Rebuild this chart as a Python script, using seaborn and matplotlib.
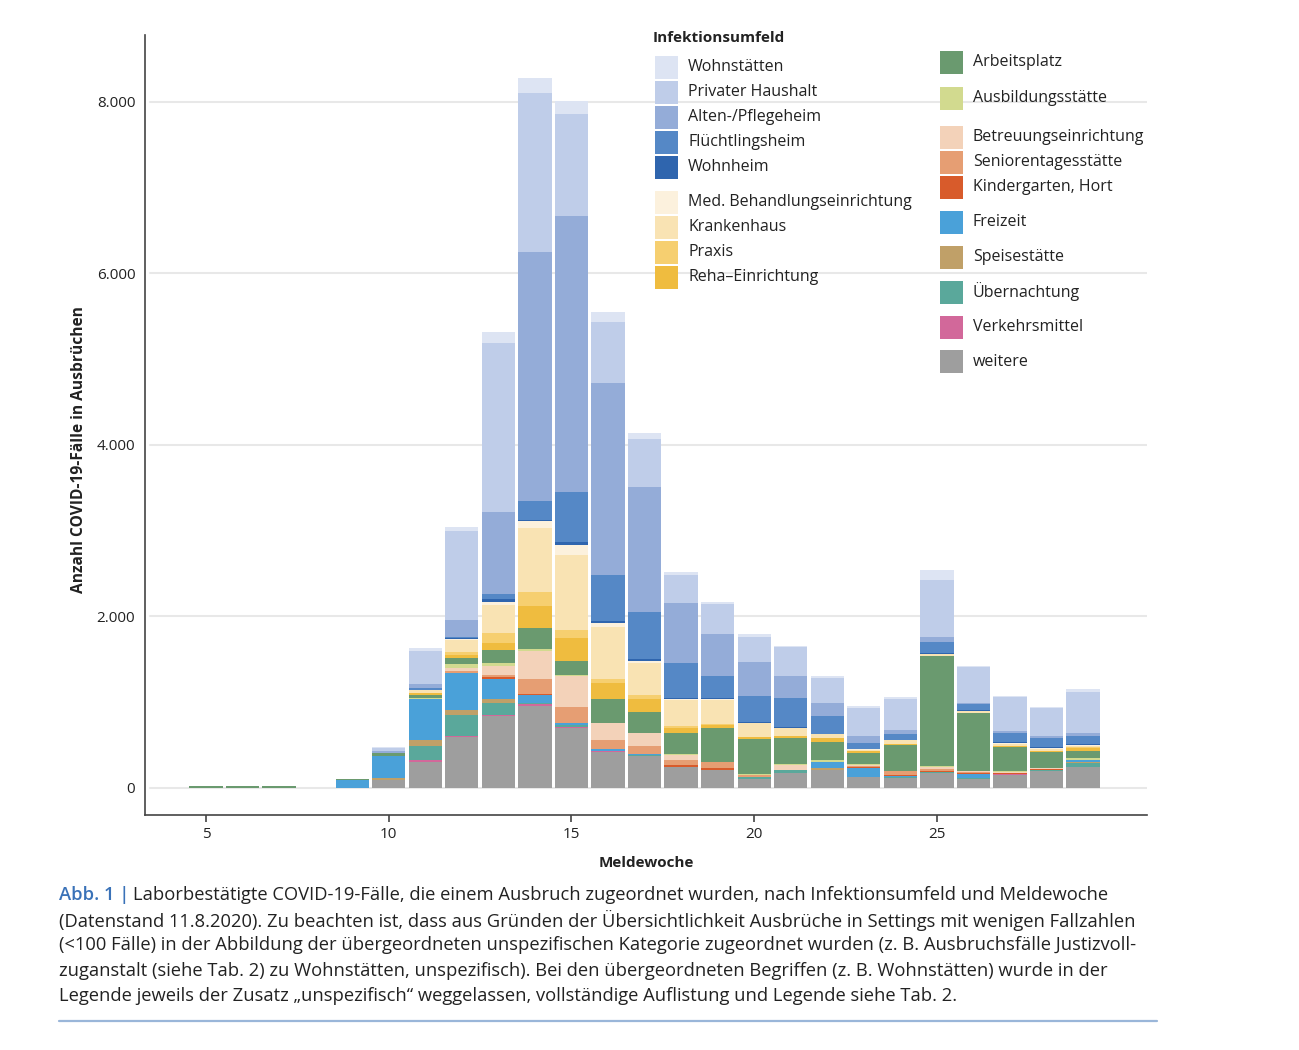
import numpy as np
import pandas as pd
import matplotlib
matplotlib.use("Agg")
import matplotlib.pyplot as plt
from matplotlib.patches import Rectangle
from matplotlib.lines import Line2D
from matplotlib.ticker import FuncFormatter
import seaborn as sns

# ---------------- data ----------------
weeks = list(range(5, 30))

categories = [
    "Wohnstätten", "Privater Haushalt", "Alten-/Pflegeheim", "Flüchtlingsheim", "Wohnheim",
    "Med. Behandlungseinrichtung", "Krankenhaus", "Praxis", "Reha\u2013Einrichtung",
    "Arbeitsplatz", "Ausbildungsstätte", "Betreuungseinrichtung", "Seniorentagesstätte",
    "Kindergarten, Hort", "Freizeit", "Speisestätte", "Übernachtung", "Verkehrsmittel", "weitere",
]

colors = [
    "#dde4f3", "#bfcde9", "#94acd8", "#5588c6", "#2f65ae",
    "#fcf1dd", "#f9e3b3", "#f6cf70", "#efbc3f",
    "#6a9a6f", "#d2da8f", "#f3d2b9", "#e69e73",
    "#d85b2b", "#4aa1d9", "#c0a068", "#5aa89b", "#d2689a", "#9e9e9e",
]

#                 5  6  7  8  9   10   11    12    13    14    15    16    17   18   19   20   21   22   23   24    25   26   27   28   29
wohnstaetten   = [0, 0, 0, 0, 0,  15,  27,   55,  130,  175,  160,  117,   70,  39,  27,  30,  20,  30,  20,  20,  117,  15,  20,  20,  40]
privat         = [0, 0, 0, 0, 0,  35, 393, 1030, 1960, 1854, 1186,  711,  552, 330, 342, 291, 338, 285, 335, 357,  668, 421, 390, 325, 480]
alten          = [0, 0, 0, 0, 0,  25,  46,  205,  965, 2915, 3223, 2236, 1465, 700, 500, 395, 257, 155,  78,  50,   59,  10,  31,  23,  31]
fluechtling    = [0, 0, 0, 0, 0,   0,  15,   10,   50,  214,  583,  533,  545, 400, 253, 312, 338, 210,  70,  70,  128,  75,  97, 105,  97]
wohnheim       = [0, 0, 0, 0, 0,   0,   0,   15,   38,   15,   30,   23,   20,  15,  10,  12,  12,   0,   0,   0,    7,  10,  20,  12,  10]
med            = [0, 0, 0, 0, 0,   0,   0,   12,   38,   80,  117,   47,   20,  10,  10,   0,   0,   0,   7,   5,    5,   5,  10,   7,  10]
krankenhaus    = [0, 0, 0, 0, 0,   0,  40,  137,  320,  746,  874,  610,  381, 300, 285, 155,  86,  51,  20,  39,   15,  15,  20,  20,  10]
praxis         = [0, 0, 0, 0, 0,   0,   0,   31,  128,  160,   97,   50,   50,  30,  10,   0,   0,   0,   0,   0,    0,   0,   0,   0,  20]
reha           = [0, 0, 0, 0, 0,   0,  20,   40,   78,  255,  265,  183,  151,  60,  30,  31,  20,  39,  20,  15,    0,   0,  10,  12,  30]
arbeitsplatz   = [25, 25, 25, 0, 15, 31, 40,   66,  145,  255,  163,  276,  245, 240, 398, 408, 306, 213, 128, 300, 1290, 680, 280, 194,  86]
ausbildung     = [0, 0, 0, 0, 0,   0,  12,   50,   40,   15,   10,    0,    0,  10,   0,  10,  10,  20,  10,   0,   10,   0,  10,   0,  20]
betreuung      = [0, 0, 0, 0, 0,   0,   0,   32,  110,  330,  360,  200,  148,  60,   0,   0,  58,   0,  10,   0,   20,  12,  10,  10,   0]
senioren       = [0, 0, 0, 0, 0,   0,   0,   27,   15,  180,  193,  101,   86,  65,  70,  27,   0,   0,  15,  45,   20,  15,   0,   0,   0]
kindergarten   = [0, 0, 0, 0, 0,   0,   0,    0,   30,   10,    0,   10,    0,  15,  20,   0,   0,   0,  10,  10,   10,  10,  12,  10,   0]
freizeit       = [0, 0, 0, 0, 90, 254, 478,  427,  233,   86,   20,   15,   15,   0,   0,   0,   0,  78, 110,  20,   10,  40,   0,   0,  27]
speise         = [0, 0, 0, 0, 0,  27,  66,   59,   47,    0,    0,    0,    0,   0,   0,   0,   0,  20,   0,   0,    0,   0,   0,   0,  10]
uebernachtung  = [0, 0, 0, 0, 0,   0, 167,  243,  132,   20,   30,    0,   10,   0,   0,  15,  39,   0,   0,  10,   10,  10,   0,  10,  39]
verkehr        = [0, 0, 0, 0, 0,   0,  20,   10,   15,   15,   10,   10,    0,   0,   0,   0,   0,   0,   0,   0,    0,   0,  15,   0,   0]
weitere        = [0, 0, 0, 0, 0,  95, 305,  598,  840,  960,  696,  425,  377, 248, 215, 108, 175, 210, 124, 115,  172, 110, 152, 200, 250]

series = [wohnstaetten, privat, alten, fluechtling, wohnheim, med, krankenhaus, praxis, reha,
          arbeitsplatz, ausbildung, betreuung, senioren, kindergarten, freizeit, speise,
          uebernachtung, verkehr, weitere]

y_ticks = [0, 2000, 4000, 6000, 8000]
x_ticks = [5, 10, 15, 20, 25]

rows = []
for cat, vals in zip(categories, series):
    for w, v in zip(weeks, vals):
        rows.append({"Meldewoche": w, "Infektionsumfeld": cat, "Faelle": v})
df = pd.DataFrame(rows)
palette = dict(zip(categories, colors))

# ---------------- figure ----------------
W, H = 1299, 1050
sns.set_theme(style="white")
plt.rcParams["font.family"] = ["Open Sans", "DejaVu Sans"]
fig = plt.figure(figsize=(W / 100, H / 100), dpi=100)
ax = fig.add_axes([145 / W, 1 - 815 / H, (1147 - 145) / W, (815 - 35) / H])

sns.histplot(data=df, x="Meldewoche", weights="Faelle", hue="Infektionsumfeld",
             hue_order=categories, palette=palette, multiple="stack", discrete=True,
             shrink=0.91, alpha=1, linewidth=0, legend=False, ax=ax)

ax.set_xlim(3.33, 30.75)
ax.set_ylim(-315, 8781)
ax.set_yticks(y_ticks)
ax.set_xticks(x_ticks)
ax.yaxis.set_major_formatter(FuncFormatter(lambda v, p: f"{int(v):,}".replace(",", ".")))
ax.tick_params(axis="y", length=0, pad=7, labelsize=11, colors="#222222")
ax.tick_params(axis="x", length=5, width=1.2, color="#444444", pad=4, labelsize=11,
               labelcolor="#222222", direction="out", bottom=True)
for yv in y_ticks:
    ax.axhline(yv, color="#e8e8e8", lw=1.5, zorder=0, xmin=0.005, xmax=1.0)
ax.set_axisbelow(True)
for s in ["top", "right"]:
    ax.spines[s].set_visible(False)
for s in ["left", "bottom"]:
    ax.spines[s].set_color("#444444")
    ax.spines[s].set_linewidth(1.2)
ax.set_xlabel("Meldewoche", fontsize=11, fontweight="bold", labelpad=10, color="#222222")
ax.set_ylabel("Anzahl COVID-19-Fälle in Ausbrüchen", fontsize=11.2, fontweight="bold",
              color="#222222")
ax.yaxis.set_label_coords(-0.058, 0.469)

# ---------------- legend (manual, two columns) ----------------
def fx(x):
    return x / W

def fy(y):
    return 1 - y / H

fig.text(fx(653), fy(38), "Infektionsumfeld", fontsize=11, fontweight="bold",
         va="center", ha="left", color="#222222")
col1_y = [67, 92, 117, 142, 167, 202, 227, 252, 277]
col2_y = [62, 98, 137, 162, 187, 222, 257, 292, 327, 362]
entries = list(zip(categories[:9], colors[:9], [655] * 9, col1_y)) + \
          list(zip(categories[9:], colors[9:], [940] * 10, col2_y))
for name, col, x0, yc in entries:
    fig.add_artist(Rectangle((fx(x0), fy(yc + 11.5)), 23 / W, 23 / H,
                             transform=fig.transFigure, facecolor=col, edgecolor="none"))
    fig.text(fx(x0 + 33), fy(yc), name, fontsize=11.5, va="center", ha="left", color="#222222")

# ---------------- caption ----------------
cap_lines = [
    "Laborbestätigte COVID-19-Fälle, die einem Ausbruch zugeordnet wurden, nach Infektionsumfeld und Meldewoche",
    "(Datenstand 11.8.2020). Zu beachten ist, dass aus Gründen der Übersichtlichkeit Ausbrüche in Settings mit wenigen Fallzahlen",
    "(<100 Fälle) in der Abbildung der übergeordneten unspezifischen Kategorie zugeordnet wurden (z. B. Ausbruchsfälle Justizvoll-",
    "zuganstalt (siehe Tab. 2) zu Wohnstätten, unspezifisch). Bei den übergeordneten Begriffen (z. B. Wohnstätten) wurde in der",
    "Legende jeweils der Zusatz \u201eunspezifisch\u201c weggelassen, vollständige Auflistung und Legende siehe Tab. 2.",
]
cap_y = [895, 920, 945, 971, 996]
cap_fs = 13.2
t0 = fig.text(fx(59), fy(cap_y[0]), "Abb. 1 |", fontsize=cap_fs, color="#3a72b8",
              fontweight="semibold", va="center", ha="left")
fig.canvas.draw()
bb = t0.get_window_extent(renderer=fig.canvas.get_renderer())
x_after = bb.x1 / W + 4 / W
fig.text(x_after, fy(cap_y[0]), cap_lines[0], fontsize=cap_fs, color="#222222",
         va="center", ha="left")
for line, yc in zip(cap_lines[1:], cap_y[1:]):
    fig.text(fx(59), fy(yc), line, fontsize=cap_fs, color="#222222", va="center", ha="left")

fig.add_artist(Line2D([fx(59), fx(1157)], [fy(1021), fy(1021)], transform=fig.transFigure,
                      color="#9ab6d9", lw=1.6))

fig.savefig("out.png", dpi=100, facecolor="white")
